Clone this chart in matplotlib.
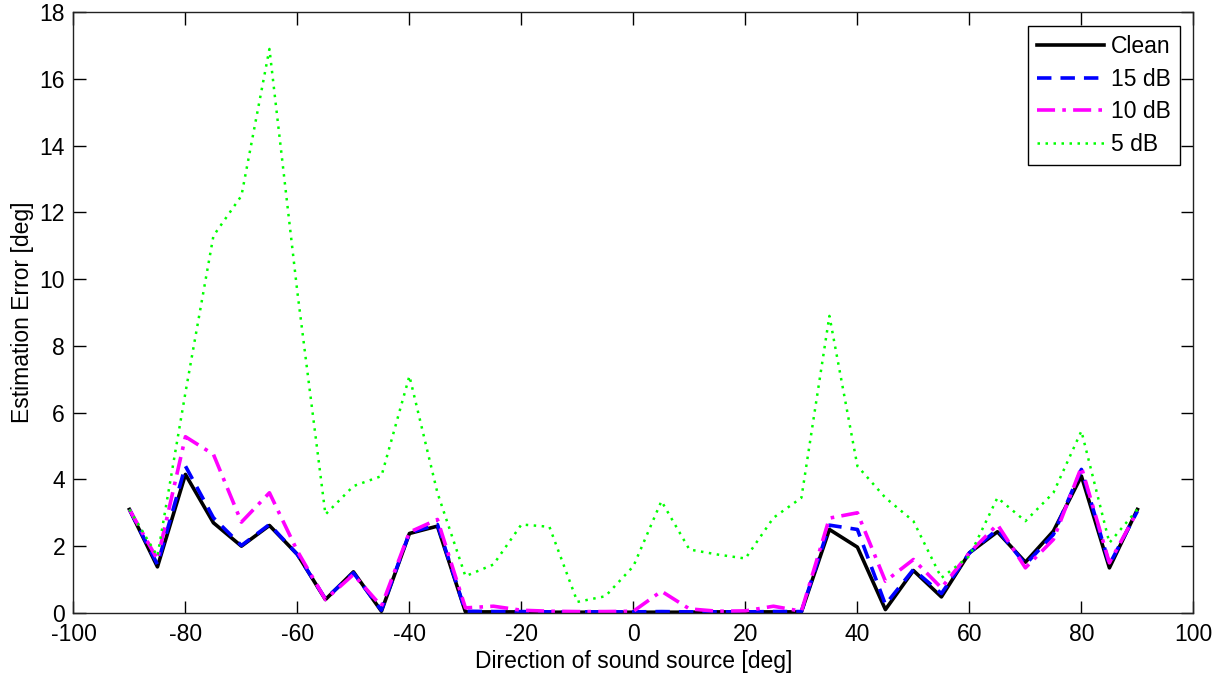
import matplotlib
matplotlib.use("Agg")
import matplotlib.pyplot as plt

plt.rcParams['font.family'] = ['Liberation Sans', 'DejaVu Sans']
plt.rcParams['axes.unicode_minus'] = False

directions = [-90, -85, -80, -75, -70, -65, -60, -55, -50, -45, -40, -35, -30, -25, -20,
              -15, -10, -5, 0, 5, 10, 15, 20, 25, 30, 35, 40, 45, 50, 55, 60, 65, 70, 75,
              80, 85, 90]

clean = [3.1, 1.38, 4.15, 2.7, 2.0, 2.62, 1.75, 0.4, 1.23, 0.05, 2.38, 2.6, 0.03, 0.03,
         0.03, 0.02, 0.02, 0.02, 0.02, 0.02, 0.02, 0.03, 0.03, 0.03, 0.03, 2.5, 1.97, 0.1,
         1.27, 0.48, 1.8, 2.43, 1.52, 2.45, 4.1, 1.35, 3.1]

db15 = [3.1, 1.45, 4.4, 2.85, 2.02, 2.65, 1.75, 0.42, 1.2, 0.08, 2.4, 2.65, 0.05, 0.04,
        0.04, 0.03, 0.03, 0.03, 0.03, 0.04, 0.03, 0.03, 0.03, 0.04, 0.04, 2.63, 2.5, 0.25,
        1.3, 0.58, 1.8, 2.5, 1.45, 2.35, 4.3, 1.45, 3.05]

db10 = [3.1, 1.6, 5.28, 4.75, 2.72, 3.6, 1.85, 0.4, 1.15, 0.2, 2.42, 2.8, 0.15, 0.2, 0.08,
        0.05, 0.04, 0.04, 0.05, 0.65, 0.12, 0.05, 0.06, 0.2, 0.05, 2.84, 3.0, 0.95, 1.6,
        0.75, 1.8, 2.65, 1.35, 2.2, 4.37, 1.5, 3.05]

db5 = [3.1, 1.7, 6.6, 11.3, 12.5, 16.9, 9.6, 2.95, 3.8, 4.1, 7.1, 3.6, 1.1, 1.45, 2.65,
       2.58, 0.33, 0.5, 1.4, 3.35, 1.9, 1.75, 1.63, 2.85, 3.45, 8.9, 4.4, 3.45, 2.75, 1.05,
       1.7, 3.45, 2.75, 3.6, 5.45, 2.1, 3.1]

x_ticks = [-100, -80, -60, -40, -20, 0, 20, 40, 60, 80, 100]
y_ticks = [0, 2, 4, 6, 8, 10, 12, 14, 16, 18]

fig = plt.figure(figsize=(12.24, 6.81), dpi=100)
ax = fig.add_axes([0.060, 0.100, 0.915, 0.882])

ax.plot(directions, clean, color='black', lw=2.6, linestyle='-', label='Clean')
ax.plot(directions, db15, color='#0000ff', lw=2.6, linestyle=(0, (4, 2.5)), label='15 dB')
ax.plot(directions, db10, color='#ff00ff', lw=2.6, linestyle=(0, (5, 2, 1, 2)), label='10 dB')
ax.plot(directions, db5, color='#00ff00', lw=1.8, linestyle=(0, (1, 2.2)), label='5 dB')

ax.set_xlim(-100, 100)
ax.set_ylim(0, 18)
ax.set_xticks(x_ticks)
ax.set_yticks(y_ticks)
ax.tick_params(direction='in', top=True, right=True, labelsize=16.5, length=9, width=1)
ax.tick_params(axis='x', pad=7)
ax.tick_params(axis='y', pad=6)
for s in ax.spines.values():
    s.set_linewidth(1.0)
    s.set_color('#222222')

ax.set_xlabel('Direction of sound source [deg]', fontsize=16.5, labelpad=3)
ax.set_ylabel('Estimation Error [deg]', fontsize=16.5, labelpad=4)

leg = ax.legend(loc='upper right', fontsize=16.5, fancybox=False, framealpha=1,
                edgecolor='black', handlelength=2.9, borderaxespad=0.6,
                handletextpad=0.3, labelspacing=0.42, borderpad=0.4)
leg.get_frame().set_linewidth(1.0)

fig.savefig('out.png', dpi=100)
